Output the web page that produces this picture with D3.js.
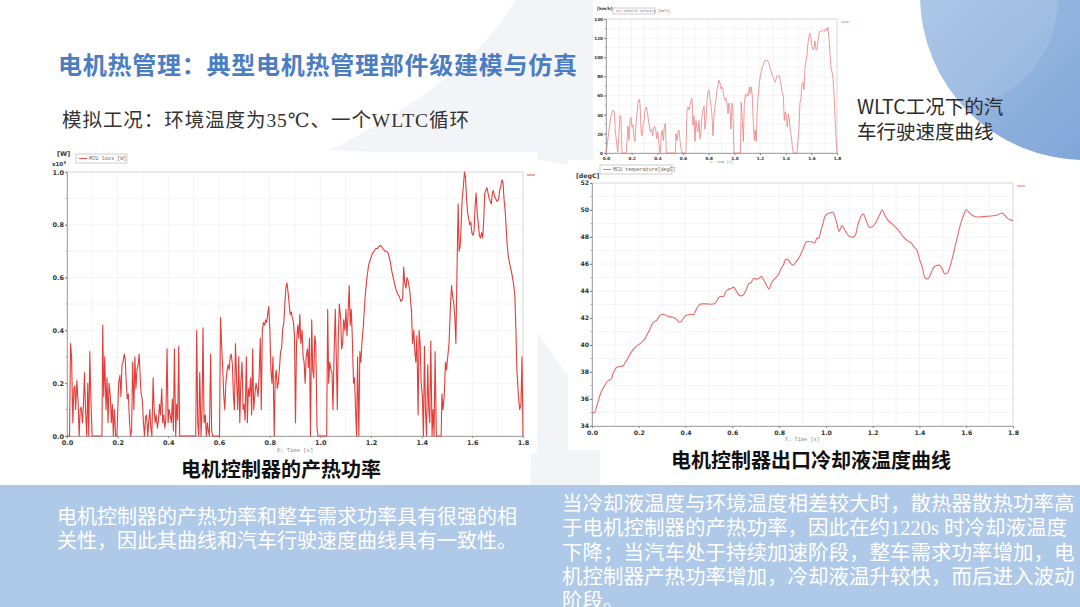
<!DOCTYPE html>
<html>
<head>
<meta charset="utf-8">
<script src="https://cdn.jsdelivr.net/npm/d3@7"></script>
<style>
  body { margin: 0; background: #fff; }
  svg { display: block; }
</style>
</head>
<body>
<svg id="slide" width="1080" height="607"></svg>
<script>
// ---- data (time in s, x axis shown in x10^3 s) ----
const timeTicks = [0, 200, 400, 600, 800, 1000, 1200, 1400, 1600, 1800];
const timeTickLabels = ["0.0", "0.2", "0.4", "0.6", "0.8", "1.0", "1.2", "1.4", "1.6", "1.8"];

const speedTicks = [0, 20, 40, 60, 80, 100, 120, 140];
const lossTicks = [0, 200, 400, 600, 800, 1000];
const lossTickLabels = ["0.0", "0.2", "0.4", "0.6", "0.8", "1.0"];
const tempTicks = [34, 36, 38, 40, 42, 44, 46, 48, 50, 52];

// vehicle velocity [km/h]
const speedData = [[0,0],[8,6],[21,22],[39,39],[55,45],[65,43],[73,22],[81,13],[91,1],[101,20],[109,39],[117,36],[125,0],[158,0],[164,13],[171,28],[179,13],[187,34],[195,37],[203,27],[210,29],[218,15],[226,12],[234,31],[242,41],[249,52],[257,56],[265,52],[273,22],[281,18],[288,29],[296,34],[304,45],[312,48],[319,45],[327,38],[335,31],[345,22],[356,25],[364,18],[371,27],[379,28],[387,25],[395,15],[403,22],[410,14],[418,1],[423,0],[431,18],[439,24],[447,13],[454,27],[462,31],[470,0],[540,0],[545,20],[553,13],[561,22],[569,24],[577,13],[584,5],[592,0],[623,0],[631,45],[639,48],[647,45],[654,50],[662,55],[670,57],[678,29],[686,39],[693,12],[701,34],[709,25],[717,22],[725,34],[732,15],[740,22],[748,39],[756,45],[764,49],[771,25],[779,34],[787,55],[795,64],[802,66],[810,57],[818,50],[826,39],[834,18],[841,38],[849,48],[857,57],[865,66],[873,71],[880,76],[888,73],[896,67],[904,69],[912,66],[919,59],[927,55],[935,57],[943,52],[951,41],[958,52],[966,45],[974,25],[982,52],[989,45],[997,0],[1047,0],[1054,53],[1062,34],[1070,12],[1078,52],[1086,61],[1093,59],[1101,62],[1109,60],[1117,69],[1125,62],[1132,69],[1140,60],[1148,31],[1156,13],[1163,24],[1171,12],[1179,48],[1187,62],[1195,73],[1202,80],[1210,85],[1218,90],[1226,92],[1234,95],[1241,97],[1249,97],[1257,97],[1265,95],[1273,92],[1280,88],[1288,85],[1296,81],[1304,79],[1311,76],[1319,74],[1327,78],[1335,81],[1343,80],[1350,81],[1358,76],[1366,69],[1374,62],[1382,60],[1389,34],[1397,43],[1405,39],[1413,27],[1421,41],[1428,36],[1436,22],[1444,18],[1452,6],[1460,0],[1488,0],[1496,13],[1504,25],[1511,52],[1519,57],[1527,73],[1535,74],[1543,66],[1550,88],[1558,95],[1566,102],[1574,115],[1582,122],[1589,125],[1597,120],[1605,111],[1613,108],[1621,111],[1628,117],[1636,108],[1644,108],[1652,117],[1660,125],[1667,127],[1675,127],[1683,128],[1691,128],[1698,127],[1706,128],[1714,130],[1722,128],[1730,131],[1737,121],[1745,104],[1753,90],[1761,85],[1769,78],[1776,64],[1784,39],[1792,17],[1800,0]];

// MCU loss [W]
const lossData = [[0,0],[10,0],[14,350],[18,300],[23,50],[27,180],[31,190],[34,100],[39,210],[44,120],[48,0],[52,100],[56,110],[61,50],[65,120],[69,240],[73,100],[78,0],[82,200],[86,0],[90,320],[94,150],[99,0],[138,0],[141,420],[145,150],[149,300],[154,100],[158,220],[162,50],[166,200],[171,150],[175,50],[179,120],[183,0],[187,100],[192,0],[197,0],[204,200],[209,230],[213,150],[217,270],[221,280],[226,310],[230,290],[234,200],[238,140],[242,160],[247,50],[251,0],[255,20],[259,280],[264,100],[268,300],[272,180],[276,250],[281,270],[285,310],[290,200],[293,160],[297,140],[302,50],[306,0],[310,70],[314,80],[319,0],[323,60],[327,100],[331,30],[335,0],[340,220],[344,100],[348,50],[352,80],[357,30],[361,60],[365,120],[369,80],[374,180],[378,50],[382,80],[386,30],[390,60],[395,330],[399,50],[403,100],[407,80],[412,50],[416,140],[420,20],[424,330],[429,0],[433,120],[437,60],[441,340],[445,0],[508,0],[512,400],[516,50],[520,0],[524,240],[529,0],[533,100],[537,410],[541,50],[546,80],[550,0],[554,50],[558,20],[562,0],[567,310],[571,20],[575,0],[602,0],[606,450],[610,350],[615,250],[619,150],[623,100],[627,200],[632,250],[636,270],[640,250],[644,300],[648,310],[653,270],[657,150],[661,100],[665,350],[670,200],[674,100],[678,300],[682,50],[686,200],[691,280],[695,100],[699,120],[703,60],[708,300],[712,50],[716,180],[720,150],[725,220],[729,80],[733,330],[737,100],[741,150],[746,200],[750,180],[754,150],[758,220],[763,370],[767,100],[771,400],[775,430],[780,420],[784,440],[788,430],[792,460],[796,490],[801,400],[805,250],[809,200],[813,300],[818,0],[822,220],[826,250],[830,180],[834,200],[839,260],[843,320],[847,330],[851,400],[856,430],[860,500],[864,560],[868,580],[872,550],[877,500],[881,460],[885,470],[889,450],[894,430],[898,380],[902,50],[906,350],[911,420],[915,370],[919,460],[923,350],[928,400],[932,300],[936,280],[940,200],[944,300],[949,330],[953,260],[957,370],[961,0],[966,440],[970,250],[974,220],[978,380],[982,350],[987,30],[991,0],[1025,0],[1029,480],[1033,200],[1037,280],[1042,250],[1046,240],[1050,100],[1054,300],[1059,480],[1063,300],[1067,100],[1071,380],[1075,500],[1080,450],[1084,330],[1088,350],[1092,440],[1097,400],[1101,480],[1105,380],[1109,450],[1114,570],[1118,420],[1122,480],[1126,380],[1131,200],[1135,220],[1139,100],[1143,0],[1147,300],[1152,0],[1156,320],[1160,280],[1164,350],[1170,420],[1177,530],[1184,600],[1191,650],[1198,670],[1205,690],[1212,700],[1219,710],[1226,710],[1233,720],[1240,720],[1247,710],[1255,700],[1262,700],[1269,690],[1276,660],[1283,620],[1290,590],[1297,560],[1304,540],[1311,530],[1318,510],[1325,520],[1329,640],[1333,580],[1338,560],[1342,600],[1346,590],[1353,550],[1360,470],[1364,350],[1369,400],[1373,320],[1377,280],[1381,380],[1386,80],[1390,400],[1394,350],[1398,200],[1403,150],[1407,0],[1411,340],[1415,100],[1419,0],[1424,270],[1428,100],[1432,50],[1436,360],[1441,0],[1445,100],[1449,0],[1453,320],[1458,0],[1477,0],[1480,160],[1484,100],[1489,150],[1494,280],[1498,250],[1503,300],[1508,350],[1514,500],[1518,570],[1522,530],[1527,500],[1531,450],[1535,350],[1539,600],[1544,880],[1548,700],[1552,720],[1556,800],[1560,900],[1565,950],[1569,1000],[1573,980],[1577,900],[1581,850],[1586,820],[1590,800],[1594,810],[1598,770],[1603,760],[1607,780],[1611,870],[1615,920],[1619,850],[1624,800],[1628,760],[1632,750],[1637,770],[1641,750],[1645,820],[1649,920],[1653,930],[1658,940],[1662,920],[1666,900],[1670,890],[1675,880],[1679,920],[1683,930],[1687,910],[1692,900],[1696,890],[1700,890],[1704,900],[1708,930],[1713,950],[1717,970],[1721,960],[1725,900],[1730,850],[1734,780],[1738,720],[1742,680],[1748,650],[1755,620],[1762,580],[1768,530],[1772,400],[1776,250],[1782,150],[1787,100],[1792,120],[1796,300],[1800,0]];

// MCU coolant temperature [degC]
const tempData = [[0,35.0],[11,35.0],[19,35.4],[30,36.05],[40,36.55],[51,36.9],[61,37.2],[73,37.4],[83,37.5],[90,37.9],[97,38.15],[107,38.35],[118,38.4],[133,38.47],[140,38.65],[150,38.9],[161,39.27],[175,39.64],[192,39.93],[211,40.18],[225,40.43],[235,40.75],[247,41.17],[258,41.57],[268,41.74],[278,41.86],[285,42.06],[294,42.23],[304,42.28],[315,42.2],[329,42.1],[346,42.06],[361,41.9],[372,41.69],[382,41.74],[396,42.1],[410,42.23],[425,42.28],[435,42.23],[442,42.48],[453,42.85],[467,43.05],[489,43.05],[510,43.02],[524,43.05],[532,43.22],[543,43.54],[553,43.59],[563,43.59],[570,43.89],[581,44.09],[596,44.21],[606,44.29],[614,44.09],[624,43.79],[636,43.64],[648,43.72],[660,44.14],[670,44.53],[681,44.63],[691,44.95],[703,44.88],[714,44.95],[724,45.08],[734,44.83],[745,44.46],[757,44.14],[767,44.58],[777,44.83],[788,45.03],[800,45.32],[810,45.7],[819,45.94],[828,46.36],[838,46.31],[848,46.07],[859,45.92],[874,46.19],[888,46.56],[902,47.1],[914,47.6],[924,47.67],[938,47.65],[952,47.55],[962,47.92],[971,47.92],[976,48.29],[988,49.03],[995,49.48],[1006,49.73],[1019,49.78],[1030,49.85],[1038,49.53],[1048,48.91],[1056,48.41],[1063,48.66],[1070,48.84],[1080,48.54],[1090,48.24],[1102,48.04],[1116,47.99],[1127,48.17],[1137,48.91],[1147,49.4],[1159,49.7],[1166,49.53],[1176,49.03],[1187,48.71],[1201,48.79],[1216,49.16],[1230,49.65],[1241,50.02],[1251,49.65],[1266,49.23],[1287,48.91],[1308,48.54],[1330,48.04],[1347,47.75],[1365,47.55],[1377,47.25],[1390,47.0],[1401,46.31],[1412,45.77],[1422,45.03],[1432,44.88],[1444,45.08],[1455,45.57],[1469,45.87],[1486,45.92],[1498,45.62],[1508,45.27],[1519,45.32],[1532,45.87],[1546,46.81],[1561,47.92],[1575,48.91],[1589,49.65],[1600,50.02],[1612,49.83],[1629,49.58],[1650,49.48],[1686,49.53],[1715,49.58],[1736,49.65],[1750,49.78],[1760,49.7],[1771,49.48],[1786,49.28],[1800,49.23]];

// ---- slide texts ----
const titleText = "电机热管理：典型电机热管理部件级建模与仿真";
const subtitleText = "模拟工况：环境温度为35℃、一个WLTC循环";
const speedCaption = ["WLTC工况下的汽", "车行驶速度曲线"];
const lossCaption = "电机控制器的产热功率";
const tempCaption = "电机控制器出口冷却液温度曲线";
const leftNote = [
  "电机控制器的产热功率和整车需求功率具有很强的相",
  "关性，因此其曲线和汽车行驶速度曲线具有一致性。"
];
const rightNote = [
  "当冷却液温度与环境温度相差较大时，散热器散热功率高",
  "于电机控制器的产热功率，因此在约1220s 时冷却液温度",
  "下降；当汽车处于持续加速阶段，整车需求功率增加，电",
  "机控制器产热功率增加，冷却液温升较快，而后进入波动",
  "阶段。"
];

const svg = d3.select("#slide");
const CJK = "'Noto Sans CJK SC', 'Noto Sans', sans-serif";
const SERIF = "'Liberation Serif', 'DejaVu Serif', 'Noto Sans CJK SC', serif";

// ---- background decoration ----
const defs = svg.append("defs");
const grad = defs.append("linearGradient").attr("id", "circleGrad")
  .attr("x1", "0%").attr("y1", "0%").attr("x2", "100%").attr("y2", "100%");
grad.append("stop").attr("offset", "0%").attr("stop-color", "#b3cbea");
grad.append("stop").attr("offset", "100%").attr("stop-color", "#6f9bd3");

svg.append("path")
  .attr("d", "M330,150 Q470,80 515,0 L600,0 L600,170 L540,160 Z")
  .attr("fill", "#f3f4f7");
svg.append("path")
  .attr("d", "M535,330 L600,420 L600,485 L530,485 Z")
  .attr("fill", "#f3f4f7");

svg.append("circle").attr("cx", 1085).attr("cy", -5).attr("r", 165)
  .attr("fill", "url(#circleGrad)");
svg.append("clipPath").attr("id", "bigCircle")
  .append("circle").attr("cx", 1085).attr("cy", -5).attr("r", 165);
svg.append("circle").attr("cx", 950).attr("cy", 0).attr("r", 108)
  .attr("clip-path", "url(#bigCircle)")
  .attr("fill", "#ffffff").attr("opacity", 0.12);

// bottom band
svg.append("rect").attr("x", 0).attr("y", 485).attr("width", 1080).attr("height", 122)
  .attr("fill", "#afc9e8");

// chart image backgrounds
svg.append("rect").attr("x", 38).attr("y", 152).attr("width", 499).attr("height", 301).attr("fill", "#fff");
svg.append("rect").attr("x", 568).attr("y", 160).attr("width", 472).attr("height", 290).attr("fill", "#fff");
svg.append("rect").attr("x", 593).attr("y", 0).attr("width", 255).attr("height", 165).attr("fill", "#fff");

// ---- chart drawing ----
function drawChart(cfg) {
  const x = d3.scaleLinear().domain([0, 1800]).range([cfg.left, cfg.right]);
  const y = d3.scaleLinear().domain(cfg.yDomain).range([cfg.bottom, cfg.top]);
  const g = svg.append("g");

  // grid every 100 s and every minor y step
  g.append("g").selectAll("line").data(d3.range(0, 1801, 100)).join("line")
    .attr("x1", d => x(d)).attr("x2", d => x(d))
    .attr("y1", cfg.top).attr("y2", cfg.bottom)
    .attr("stroke", "#ececec").attr("stroke-width", 0.6);
  g.append("g").selectAll("line").data(cfg.minorY).join("line")
    .attr("x1", cfg.left).attr("x2", cfg.right)
    .attr("y1", d => y(d)).attr("y2", d => y(d))
    .attr("stroke", "#ececec").attr("stroke-width", 0.6);

  // frame
  g.append("rect").attr("x", cfg.left).attr("y", cfg.top)
    .attr("width", cfg.right - cfg.left).attr("height", cfg.bottom - cfg.top)
    .attr("fill", "none").attr("stroke", "#d0d0d0").attr("stroke-width", 0.7);

  const xAxis = g.append("g").attr("transform", `translate(0,${cfg.bottom})`)
    .call(d3.axisBottom(x).tickValues(timeTicks).tickSize(2)
      .tickFormat((d, i) => timeTickLabels[i]));
  const yAxis = g.append("g").attr("transform", `translate(${cfg.left},0)`)
    .call(d3.axisLeft(y).tickValues(cfg.yTicks).tickSize(2)
      .tickFormat((d, i) => cfg.yLabels[i]));
  // minor y ticks
  g.append("g").selectAll("line").data(cfg.minorY).join("line")
    .attr("x1", cfg.left - 1.5).attr("x2", cfg.left)
    .attr("y1", d => y(d)).attr("y2", d => y(d))
    .attr("stroke", "#888").attr("stroke-width", 0.6);

  [xAxis, yAxis].forEach(a => {
    a.select(".domain").attr("stroke", "#999").attr("stroke-width", 0.8);
    a.selectAll(".tick line").attr("stroke", "#888");
    a.selectAll("text")
      .attr("font-family", "'DejaVu Sans', sans-serif")
      .attr("font-weight", "bold")
      .attr("font-size", cfg.fs)
      .attr("fill", "#333");
  });
  xAxis.selectAll("text").attr("y", 3).attr("dy", "0.9em");
  yAxis.selectAll("text").attr("x", -3);

  // series
  const line = d3.line().x(d => x(d[0])).y(d => y(d[1])).curve(cfg.curve);
  g.append("path").datum(cfg.data)
    .attr("d", line)
    .attr("fill", "none")
    .attr("stroke", cfg.color)
    .attr("stroke-width", cfg.lw)
    .attr("stroke-linejoin", "round");

  // unit label
  g.append("text").attr("x", cfg.unitX).attr("y", cfg.unitY)
    .attr("font-family", "'DejaVu Sans', sans-serif").attr("font-weight", "bold")
    .attr("font-size", cfg.fs).attr("fill", "#333").text(cfg.unit);

  // legend box
  const lg = g.append("g");
  lg.append("rect").attr("x", cfg.legend[0]).attr("y", cfg.legend[1])
    .attr("width", cfg.legend[2]).attr("height", cfg.legend[3])
    .attr("fill", "#fff").attr("stroke", "#aaa").attr("stroke-width", 0.6);
  lg.append("line").attr("x1", cfg.legend[0] + 3).attr("x2", cfg.legend[0] + 3 + cfg.legend[3] * 0.9)
    .attr("y1", cfg.legend[1] + cfg.legend[3] / 2).attr("y2", cfg.legend[1] + cfg.legend[3] / 2)
    .attr("stroke", cfg.color).attr("stroke-width", 0.9);
  lg.append("text").attr("x", cfg.legend[0] + 5 + cfg.legend[3] * 0.9)
    .attr("y", cfg.legend[1] + cfg.legend[3] / 2).attr("dy", "0.35em")
    .attr("font-family", "'Liberation Mono', monospace").attr("font-size", cfg.fs * 0.8)
    .attr("fill", "#666").text(cfg.legendText);

  // little marker to the right of the plot
  g.append("line").attr("x1", cfg.right + 4).attr("x2", cfg.right + 12)
    .attr("y1", cfg.top + 3).attr("y2", cfg.top + 3)
    .attr("stroke", cfg.color).attr("stroke-width", 0.9);

  // x axis title
  g.append("text").attr("x", (cfg.left + cfg.right) / 2).attr("y", cfg.bottom + cfg.titleDy)
    .attr("text-anchor", "middle")
    .attr("font-family", "'Liberation Mono', monospace").attr("font-size", cfg.fs * 0.85)
    .attr("fill", "#888").text("X: Time [s]");
  return g;
}

drawChart({
  left: 606, right: 837, top: 19, bottom: 153,
  yDomain: [0, 140], yTicks: speedTicks, yLabels: speedTicks.map(String),
  minorY: d3.range(0, 141, 10), data: speedData, curve: d3.curveLinear,
  color: "#ef7f7f", lw: 0.8, fs: 4.2, unit: "[km/h]", unitX: 597, unitY: 10, titleDy: 9.5,
  legend: [613, 8, 42, 6], legendText: "Vehicle velocity [km/h]"
});

const lossG = drawChart({
  left: 67, right: 523, top: 172, bottom: 436,
  yDomain: [0, 1000], yTicks: lossTicks, yLabels: lossTickLabels,
  minorY: d3.range(0, 1001, 100), data: lossData, curve: d3.curveLinear,
  color: "#e63c38", lw: 1.1, fs: 6.5, unit: "[W]", unitX: 57, unitY: 156, titleDy: 16,
  legend: [76, 154, 51, 9], legendText: "MCU loss [W]"
});
// x10^3 multiplier under the unit
const mult = lossG.append("text").attr("x", 52).attr("y", 166)
  .attr("font-family", "'DejaVu Sans', sans-serif").attr("font-weight", "bold")
  .attr("font-size", 5.5).attr("fill", "#333");
mult.append("tspan").text("x10");
mult.append("tspan").attr("dy", -2.5).attr("font-size", 4).text("3");

drawChart({
  left: 592, right: 1013, top: 183, bottom: 426,
  yDomain: [34, 52], yTicks: tempTicks, yLabels: tempTicks.map(String),
  minorY: d3.range(34, 52.1, 1), data: tempData, curve: d3.curveMonotoneX,
  color: "#e86a6a", lw: 1.1, fs: 6.2, unit: "[degC]", unitX: 576, unitY: 178, titleDy: 15,
  legend: [600, 165, 72, 9], legendText: "MCU temperature[degC]"
});

// ---- slide texts ----
svg.append("text").attr("x", 58).attr("y", 74)
  .attr("font-family", CJK).attr("font-weight", "bold").attr("font-size", 24)
  .attr("textLength", 519).attr("lengthAdjust", "spacing")
  .attr("fill", "#4a7dc1").text(titleText);

svg.append("text").attr("x", 62).attr("y", 127)
  .attr("font-family", SERIF).attr("font-size", 19.5)
  .attr("textLength", 407).attr("lengthAdjust", "spacing")
  .attr("fill", "#333").text(subtitleText);

svg.append("g").selectAll("text").data(speedCaption).join("text")
  .attr("x", 857).attr("y", (d, i) => 114 + i * 25)
  .attr("font-family", CJK).attr("font-size", 19.5)
  .attr("fill", "#2b2b2b").text(d => d);

svg.append("text").attr("x", 281).attr("y", 477).attr("text-anchor", "middle")
  .attr("font-family", CJK).attr("font-weight", "bold").attr("font-size", 20)
  .attr("fill", "#111").text(lossCaption);
svg.append("text").attr("x", 811).attr("y", 468).attr("text-anchor", "middle")
  .attr("font-family", CJK).attr("font-weight", "bold").attr("font-size", 20)
  .attr("fill", "#111").text(tempCaption);

svg.append("g").selectAll("text").data(leftNote).join("text")
  .attr("x", 57).attr("y", (d, i) => 524 + i * 24)
  .attr("font-family", SERIF).attr("font-size", 20)
  .attr("fill", "#fff").text(d => d);

svg.append("g").selectAll("text").data(rightNote).join("text")
  .attr("x", 562).attr("y", (d, i) => 511 + i * 24.3)
  .attr("font-family", SERIF).attr("font-size", 20.5)
  .attr("fill", "#fff").text(d => d);
</script>
</body>
</html>
